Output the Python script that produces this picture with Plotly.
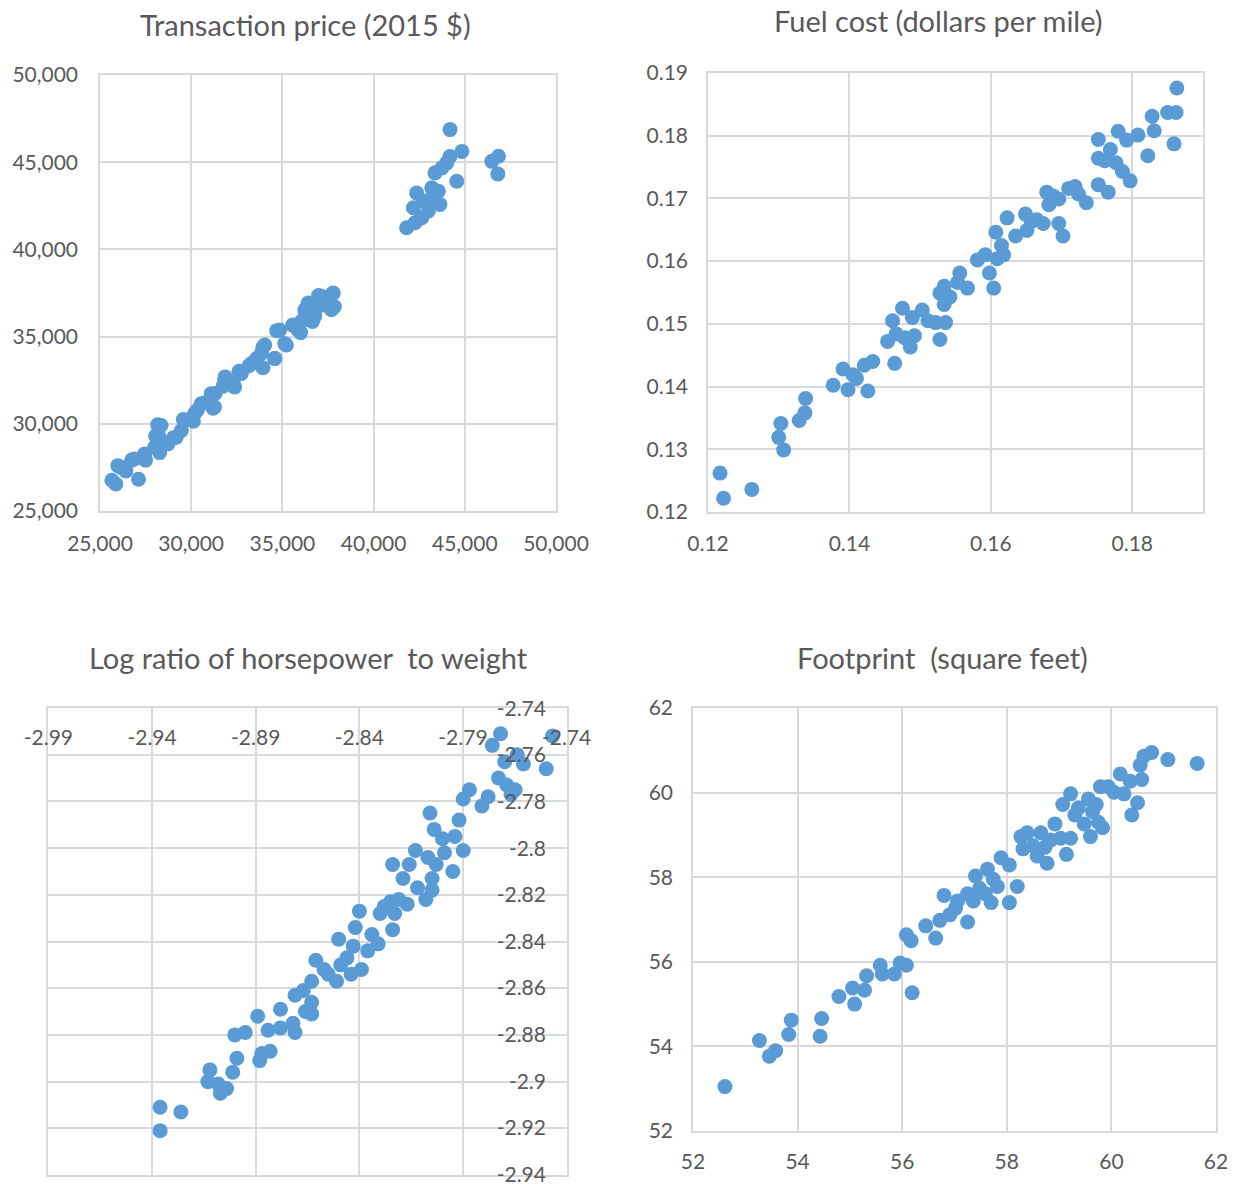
import plotly.graph_objects as go

# ---------------- Data ----------------
# Panel 1: Transaction price (2015 $)
price_x = [25650, 25870, 25980, 26420, 27110, 26740, 27500, 28160, 28270, 28050,
           29030, 29460, 29570, 30120, 30330, 30770, 31200, 31310, 31750, 31860,
           32300, 32620, 33170, 33600, 33930, 33930, 34580, 34690, 35130, 35560,
           36000, 36210, 36650, 36430, 36980, 37300, 37740, 37850,
           26150, 26890, 27440, 27990, 28350, 28260, 28720, 29180, 29630, 30180,
           30550, 31280, 31100, 31830, 32380, 32750, 33300, 33850, 34030, 34580,
           34850, 35220, 35860, 36230, 36040, 36770, 37140, 37790, 37690, 36960, 36410,
           44190, 44840, 44190, 44010, 43370, 43740, 44560, 43190, 42360, 42180,
           42730, 43550, 43640, 43000, 42640, 41810, 42270, 46850, 46480, 46810, 43190]
price_y = [26760, 26550, 27600, 27290, 26820, 27920, 27920, 29940, 28350, 29300,
           29200, 29620, 30250, 30150, 30780, 31210, 30890, 31740, 32160, 32690,
           32370, 33010, 33330, 33750, 34390, 33220, 33750, 35340, 34600, 35660,
           35230, 36080, 35870, 36500, 37350, 36820, 37460, 36720,
           27500, 27980, 28270, 28650, 29900, 29230, 28850, 29230, 30190, 30580,
           31150, 30960, 31730, 32500, 32110, 32890, 33460, 34040, 34520, 33750,
           35380, 34520, 35380, 36540, 35860, 36150, 37310, 37500, 36540, 36730, 36920,
           46870, 45620, 45330, 44960, 44390, 44670, 43910, 43530, 43240, 42390,
           42770, 43340, 42580, 42200, 41820, 41240, 41530, 45340, 45050, 44330, 42960]
price_ticks = [25000, 30000, 35000, 40000, 45000, 50000]

# Panel 2: Fuel cost (dollars per mile)
fuel_x = [0.1217, 0.1222, 0.1262, 0.1303, 0.1300, 0.1307, 0.1329, 0.1337, 0.1338, 0.1377,
          0.1391, 0.1398, 0.1405, 0.1410, 0.1421, 0.1433, 0.1426, 0.1464, 0.1454, 0.1461,
          0.1466, 0.1475, 0.1478, 0.1486, 0.1492, 0.1489, 0.1503, 0.1511, 0.1522, 0.1528,
          0.1536, 0.1528, 0.1534, 0.1542, 0.1534, 0.1556, 0.1553, 0.1567, 0.1581, 0.1592,
          0.1598, 0.1604, 0.1607, 0.1609, 0.1615, 0.1618, 0.1623, 0.1635, 0.1649, 0.1651,
          0.1657, 0.1665, 0.1674, 0.1679, 0.1682, 0.1688, 0.1696, 0.1696, 0.1702, 0.1710,
          0.1719, 0.1724, 0.1735, 0.1752, 0.1752, 0.1752, 0.1766, 0.1761, 0.1769, 0.1780,
          0.1777, 0.1786, 0.1792, 0.1797, 0.1808, 0.1822, 0.1828, 0.1831, 0.1850, 0.1862,
          0.1859, 0.1863]
fuel_y = [0.1262, 0.1222, 0.1236, 0.1341, 0.1319, 0.1299, 0.1346, 0.1358, 0.1381, 0.1402,
          0.1428, 0.1395, 0.1419, 0.1413, 0.1434, 0.1440, 0.1393, 0.1437, 0.1472, 0.1505,
          0.1484, 0.1525, 0.1478, 0.1463, 0.1481, 0.1510, 0.1522, 0.1505, 0.1502, 0.1475,
          0.1502, 0.1549, 0.1560, 0.1543, 0.1531, 0.1581, 0.1566, 0.1557, 0.1602, 0.1610,
          0.1581, 0.1557, 0.1646, 0.1604, 0.1625, 0.1610, 0.1669, 0.1640, 0.1675, 0.1649,
          0.1663, 0.1666, 0.1660, 0.1710, 0.1690, 0.1704, 0.1699, 0.1660, 0.1640, 0.1716,
          0.1719, 0.1707, 0.1693, 0.1794, 0.1764, 0.1722, 0.1710, 0.1760, 0.1778, 0.1807,
          0.1757, 0.1743, 0.1793, 0.1728, 0.1801, 0.1768, 0.1831, 0.1808, 0.1837, 0.1837,
          0.1787, 0.1876]
fuel_xticks = [0.12, 0.14, 0.16, 0.18]
fuel_yticks = [0.12, 0.13, 0.14, 0.15, 0.16, 0.17, 0.18, 0.19]

# Panel 3: Log ratio of horsepower to weight
hp_x = [-2.936, -2.936, -2.926, -2.913, -2.912, -2.908, -2.907, -2.904, -2.901, -2.899,
        -2.900, -2.895, -2.889, -2.888, -2.887, -2.883, -2.884, -2.878, -2.878, -2.872,
        -2.871, -2.871, -2.867, -2.866, -2.863, -2.863, -2.863, -2.861, -2.857, -2.855,
        -2.851, -2.850, -2.849, -2.846, -2.844, -2.843, -2.842, -2.840, -2.839, -2.836,
        -2.834, -2.831, -2.830, -2.828, -2.824, -2.824, -2.825, -2.823, -2.821, -2.819,
        -2.817, -2.816, -2.813, -2.812, -2.808, -2.807, -2.805, -2.805, -2.806, -2.804,
        -2.803, -2.800, -2.799, -2.795, -2.794, -2.792, -2.790, -2.790, -2.787, -2.781,
        -2.778, -2.776, -2.772, -2.773, -2.770, -2.769, -2.767, -2.765, -2.764, -2.761,
        -2.750, -2.747]
hp_y = [-2.911, -2.921, -2.913, -2.900, -2.895, -2.901, -2.905, -2.903, -2.896, -2.890,
        -2.880, -2.879, -2.872, -2.891, -2.888, -2.887, -2.878, -2.877, -2.869, -2.875,
        -2.879, -2.863, -2.861, -2.870, -2.866, -2.871, -2.857, -2.848, -2.852, -2.854,
        -2.857, -2.839, -2.850, -2.847, -2.854, -2.842, -2.834, -2.827, -2.852, -2.844,
        -2.837, -2.841, -2.828, -2.825, -2.835, -2.807, -2.823, -2.828, -2.822, -2.813,
        -2.824, -2.807, -2.801, -2.817, -2.822, -2.804, -2.818, -2.813, -2.785, -2.792,
        -2.807, -2.796, -2.802, -2.810, -2.795, -2.788, -2.801, -2.779, -2.775, -2.782,
        -2.778, -2.756, -2.751, -2.770, -2.763, -2.773, -2.777, -2.775, -2.760, -2.764,
        -2.766, -2.752]
hp_xticks = [-2.99, -2.94, -2.89, -2.84, -2.79, -2.74]
hp_xlabels = ["-2.99", "-2.94", "-2.89", "-2.84", "-2.79", "-2.74"]
hp_yticks = [-2.74, -2.76, -2.78, -2.80, -2.82, -2.84, -2.86, -2.88, -2.90, -2.92, -2.94]
hp_ylabels = ["-2.74", "-2.76", "-2.78", "-2.8", "-2.82", "-2.84", "-2.86", "-2.88",
              "-2.9", "-2.92", "-2.94"]

# Panel 4: Footprint (square feet)
fp_x = [52.61, 53.27, 53.46, 53.58, 53.83, 53.88, 54.43, 54.46, 54.79, 55.05,
        55.09, 55.28, 55.32, 55.58, 55.62, 55.85, 55.96, 56.08, 56.19, 56.08,
        56.17, 56.45, 56.64, 56.72, 56.80, 56.91, 57.02, 57.06, 57.25, 57.25,
        57.36, 57.40, 57.48, 57.59, 57.63, 57.70, 57.74, 57.82, 57.89, 58.05,
        58.05, 58.20, 58.31, 58.27, 58.39, 58.50, 58.58, 58.65, 58.73, 58.77,
        58.84, 58.92, 59.03, 59.07, 59.14, 59.22, 59.22, 59.30, 59.37, 59.48,
        59.56, 59.60, 59.64, 59.71, 59.75, 59.83, 59.79, 59.94, 60.05, 60.17,
        60.24, 60.36, 60.39, 60.50, 60.58, 60.55, 60.62, 60.77, 61.08, 61.64]
fp_y = [53.05, 54.14, 53.77, 53.90, 54.28, 54.62, 54.24, 54.66, 55.18, 55.38,
        55.00, 55.33, 55.67, 55.92, 55.71, 55.71, 55.97, 55.92, 55.27, 56.64,
        56.50, 56.85, 56.56, 56.98, 57.57, 57.11, 57.27, 57.44, 56.94, 57.61,
        57.44, 58.03, 57.74, 57.61, 58.19, 57.40, 57.95, 57.78, 58.46, 58.29,
        57.40, 57.78, 58.67, 58.96, 59.05, 58.75, 58.50, 59.05, 58.71, 58.33,
        58.88, 59.26, 58.92, 59.72, 58.54, 59.97, 58.92, 59.47, 59.64, 59.26,
        59.85, 58.96, 59.55, 59.72, 59.30, 59.17, 60.14, 60.14, 60.01, 60.44,
        59.97, 60.27, 59.47, 59.76, 60.31, 60.65, 60.86, 60.95, 60.78, 60.69]
fp_ticks = [52, 54, 56, 58, 60, 62]

titles = ["Transaction price (2015 $)", "Fuel cost (dollars per mile)",
          "Log ratio of horsepower  to weight", "Footprint  (square feet)"]

# ---------------- Styling ----------------
W, H = 1239, 1188
BLUE = "#5B9BD5"
GRID = "#D9D9D9"
TXT = "#595959"
FONT = "Lato"
TICKFONT = dict(family=FONT, size=21, color=TXT)


def dx(a, b):
    return [a / W, b / W]


def dy(top, bottom):
    return [1 - bottom / H, 1 - top / H]


marker = dict(color=BLUE, size=15, line=dict(width=0))

fig = go.Figure()
fig.add_trace(go.Scatter(x=price_x, y=price_y, mode="markers", marker=marker, xaxis="x", yaxis="y"))
fig.add_trace(go.Scatter(x=fuel_x, y=fuel_y, mode="markers", marker=marker, xaxis="x2", yaxis="y2"))
fig.add_trace(go.Scatter(x=hp_x, y=hp_y, mode="markers", marker=marker, xaxis="x3", yaxis="y3"))
fig.add_trace(go.Scatter(x=fp_x, y=fp_y, mode="markers", marker=marker, xaxis="x4", yaxis="y4"))
# invisible copy on the label-only axes of panel 3
fig.add_trace(go.Scatter(x=hp_x, y=hp_y, mode="markers", marker=dict(size=1, opacity=0),
                         hoverinfo="skip", xaxis="x5", yaxis="y5"))

common = dict(showgrid=True, gridcolor=GRID, gridwidth=1.5, showline=True, linecolor=GRID,
              linewidth=1.5, mirror=True, zeroline=False, tickfont=TICKFONT, ticks="",
              fixedrange=True, automargin=False)
labels_only = dict(showgrid=False, showline=False, zeroline=False, tickfont=TICKFONT,
                   ticks="", fixedrange=True, automargin=False, ticklabeloverflow="allow")

P3_TOP, P3_BOT = 708, 1175

layout = dict(
    width=W, height=H, margin=dict(l=0, r=0, t=0, b=0, autoexpand=False),
    paper_bgcolor="white", plot_bgcolor="rgba(0,0,0,0)", showlegend=False,
    font=dict(family=FONT, color=TXT),
    # panel 1
    xaxis=dict(domain=dx(100, 556), range=[25000, 50000], tickvals=price_ticks,
               tickformat=",", anchor="y", ticklabelstandoff=13, **common),
    yaxis=dict(domain=dy(75, 511), range=[25000, 50000], tickvals=price_ticks,
               tickformat=",", anchor="x", ticklabelstandoff=16, **common),
    # panel 2
    xaxis2=dict(domain=dx(708, 1203), range=[0.12, 0.19], tickvals=fuel_xticks,
                tickformat=".2f", anchor="y2", ticklabelstandoff=12, **common),
    yaxis2=dict(domain=dy(73, 512), range=[0.12, 0.19], tickvals=fuel_yticks,
                tickformat=".2f", anchor="x2", ticklabelstandoff=14, **common),
    # panel 3 (grid & border; labels drawn by x5/y5 placed inside the box)
    xaxis3=dict(domain=dx(48, 567), range=[-2.99, -2.74], tickvals=hp_xticks,
                showticklabels=False, anchor="y3", **common),
    yaxis3=dict(domain=dy(P3_TOP, P3_BOT), range=[-2.94, -2.74], tickvals=hp_yticks,
                showticklabels=False, anchor="x3", **common),
    xaxis5=dict(overlaying="x3", anchor="free", side="bottom", position=1 - 718 / H,
                range=[-2.9902, -2.7398], tickvals=hp_xticks, ticktext=hp_xlabels,
                ticklabelstandoff=5, **labels_only),
    yaxis5=dict(overlaying="y3", anchor="free", side="left", position=548 / W,
                range=[-2.9402, -2.7398], tickvals=hp_yticks, ticktext=hp_ylabels,
                ticklabelstandoff=2, **labels_only),
    # panel 4
    xaxis4=dict(domain=dx(693, 1216), range=[52, 62], tickvals=fp_ticks,
                anchor="y4", ticklabelstandoff=11, **common),
    yaxis4=dict(domain=dy(708, 1131), range=[52, 62], tickvals=fp_ticks,
                anchor="x4", ticklabelstandoff=14, **common),
)
fig.update_layout(**layout)

title_pos = [(305, 24), (938, 20), (308, 657), (942, 657)]
for t, (cx, cy) in zip(titles, title_pos):
    fig.add_annotation(text=t, x=cx / W, y=1 - cy / H, xref="paper", yref="paper",
                       showarrow=False, xanchor="center", yanchor="middle",
                       font=dict(family=FONT, size=29, color=TXT))

fig.write_html("out.html")
